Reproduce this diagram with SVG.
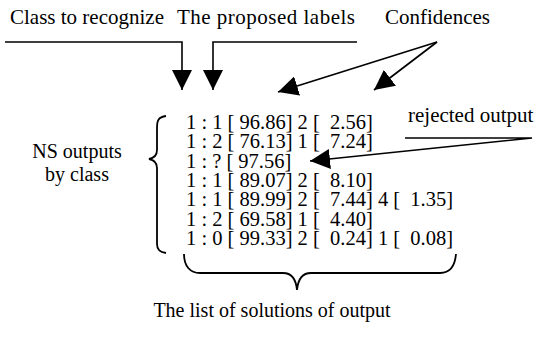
<svg xmlns="http://www.w3.org/2000/svg" width="538" height="341" viewBox="0 0 538 341">
  <defs>
    <style>
      .ln { fill: none; stroke: #000; stroke-width: 1.6; }
      .br { fill: none; stroke: #000; stroke-width: 1.8; }
    </style>
    <marker id="ah" viewBox="0 0 10 10" refX="10" refY="5" markerWidth="20" markerHeight="20" markerUnits="userSpaceOnUse" orient="auto">
      <path d="M0,0 L10,5 L0,10 Z" fill="#000"/>
    </marker>
  </defs>

  <rect width="538" height="341" fill="#fff"/>

  <g font-family="'Liberation Serif', 'Times New Roman', serif" font-size="21" fill="#000">
    <g id="label-class">
      <text x="10" y="24">Class to recognize</text>
    </g>
    <g id="label-proposed">
      <text x="177" y="24" textLength="178">The proposed labels</text>
    </g>
    <g id="label-confidences">
      <text x="385" y="24">Confidences</text>
    </g>
    <g id="label-rejected">
      <text x="408" y="122">rejected output</text>
    </g>
    <g id="label-ns" font-size="20">
      <text x="77" y="158" text-anchor="middle">NS outputs</text>
      <text x="77" y="181" text-anchor="middle">by class</text>
    </g>
    <g id="label-solutions" font-size="20">
      <text x="272" y="317" text-anchor="middle">The list of solutions of output</text>
    </g>

    <g id="outputs" font-size="20.5">
      <text x="186" y="129" xml:space="preserve">1 : 1 [ 96.86] 2 [  2.56]</text>
      <text x="186" y="148" xml:space="preserve">1 : 2 [ 76.13] 1 [  7.24]</text>
      <text x="186" y="168" xml:space="preserve">1 : ? [ 97.56]</text>
      <text x="186" y="187" xml:space="preserve">1 : 1 [ 89.07] 2 [  8.10]</text>
      <text x="186" y="206" xml:space="preserve">1 : 1 [ 89.99] 2 [  7.44] 4 [  1.35]</text>
      <text x="186" y="226" xml:space="preserve">1 : 2 [ 69.58] 1 [  4.40]</text>
      <text x="186" y="245" xml:space="preserve">1 : 0 [ 99.33] 2 [  0.24] 1 [  0.08]</text>
    </g>
  </g>

  <g id="braces">
    <path class="br" d="M166,116 C158,117 157,121 157,128 L157,150 C157,156 154,158 149,159 C154,160 157,163 157,168 L157,244 C157,250 160,252 166,253"/>
    <path class="br" d="M184,254 C184,266 190,273 200,273 L283,273 C291,273 296,279 297,290 C298,279 303,273 311,273 L440,273 C450,273 455,266 456,254"/>
  </g>

  <g id="connectors">
    <polyline class="ln" points="5,42 182,42 182,90" marker-end="url(#ah)"/>
    <polyline class="ln" points="357,42 213,42 213,90" marker-end="url(#ah)"/>
    <line class="ln" x1="437" y1="42" x2="278" y2="92" marker-end="url(#ah)"/>
    <line class="ln" x1="437" y1="42" x2="374" y2="90" marker-end="url(#ah)"/>
    <polyline class="ln" points="405,138 532,138 310,161" marker-end="url(#ah)"/>
  </g>
</svg>
